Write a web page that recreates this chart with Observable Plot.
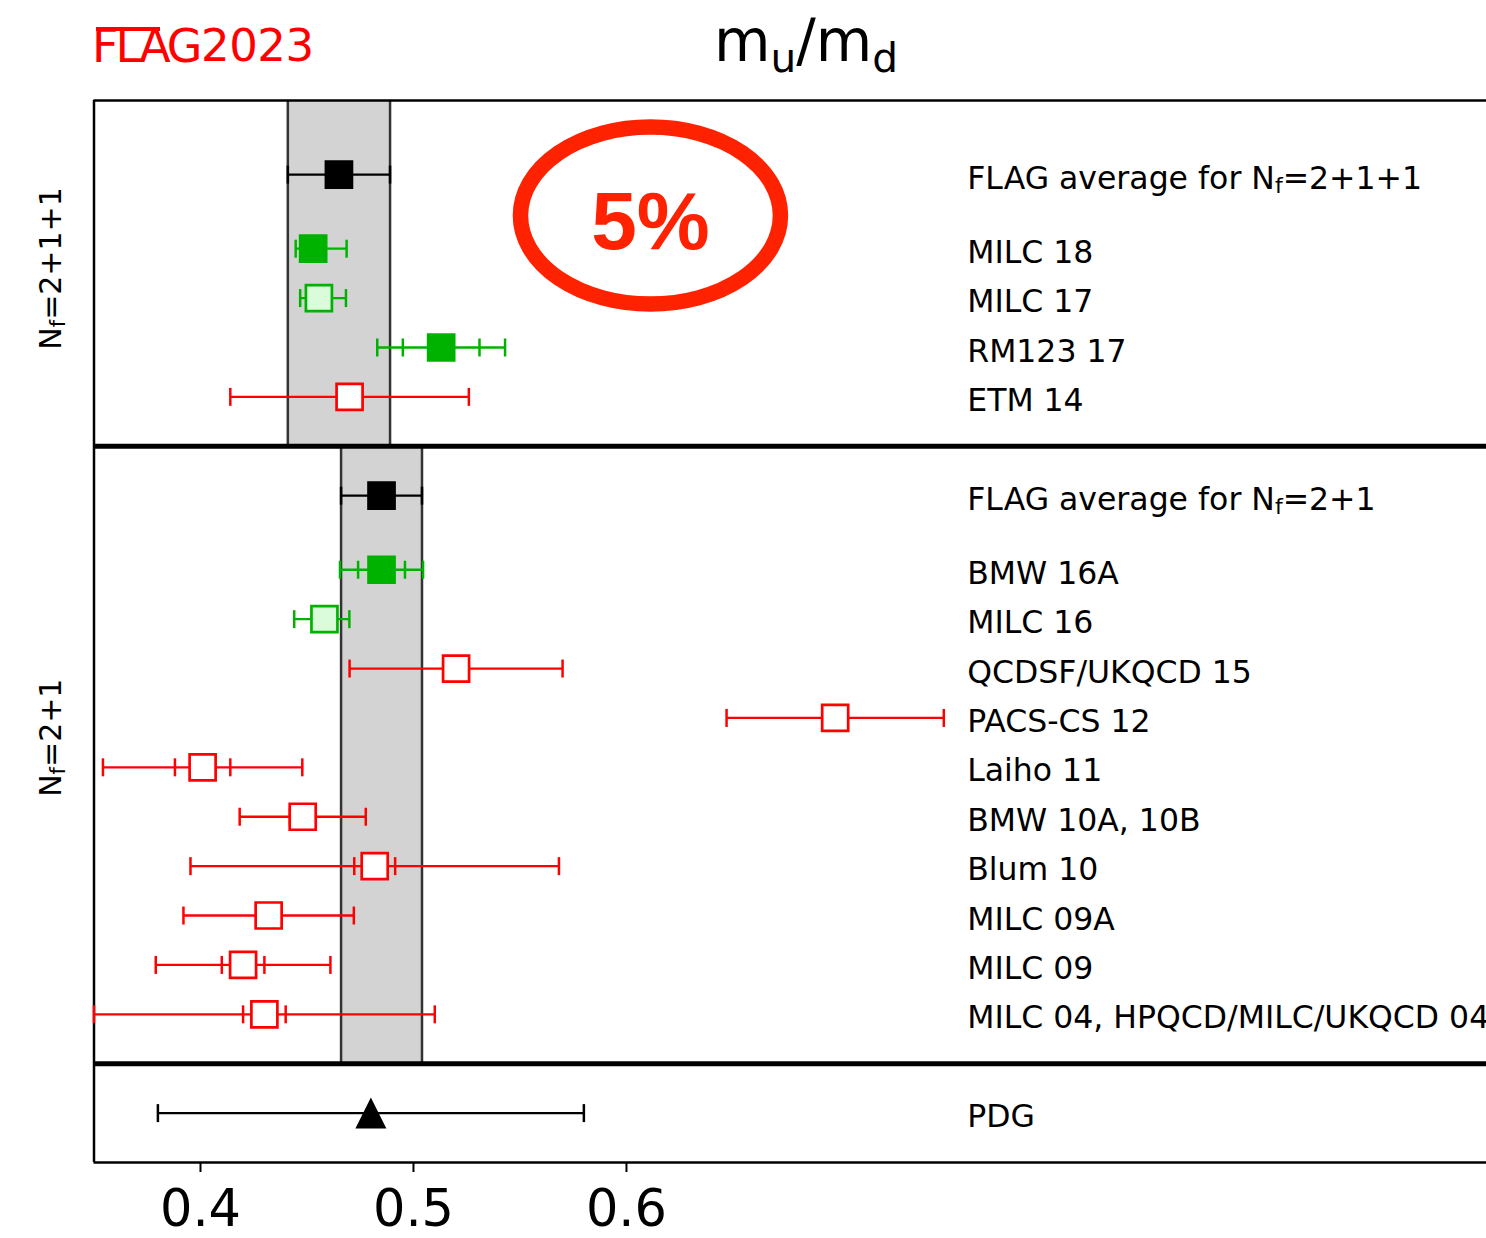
<!DOCTYPE html>
<html>
<head>
<meta charset="utf-8">
<script src="https://cdn.jsdelivr.net/npm/d3@7"></script>
<script src="https://cdn.jsdelivr.net/npm/@observablehq/plot@0.6"></script>
<style>
  html, body { margin: 0; padding: 0; background: #fff; overflow: hidden; }
  #head { position: relative; height: 90px; font-family: "DejaVu Sans", sans-serif; }
  .logo { position: absolute; top: 23px; font-size: 46px; line-height: 46px; color: #ff0000; white-space: nowrap; }
  #logo-bar { position: absolute; left: 96px; top: 27px; width: 64px; height: 4px; background: #ff0000; }
  #title { position: absolute; left: 806px; top: 12px; transform: translateX(-50%); font-size: 58px; line-height: 58px; white-space: nowrap; color: #000; }
  #title .sub { font-size: 0.7em; position: relative; top: 11px; }
</style>
</head>
<body>
<div id="head">
  <span class="logo" style="left:92px; letter-spacing:-3px">FLAG</span>
  <div id="logo-bar"></div>
  <span class="logo" style="left:201px; font-size:45px; letter-spacing:-0.5px">2023</span>
  <div id="title">m<span class="sub">u</span>/m<span class="sub">d</span></div>
</div>
<div id="chart"></div>
<script>
// m_u/m_d results, grouped by number of sea flavours
const labels = [
  "FLAG average for N_f=2+1+1",
  "MILC 18", "MILC 17", "RM123 17", "ETM 14",
  "FLAG average for N_f=2+1",
  "BMW 16A", "MILC 16", "QCDSF/UKQCD 15", "PACS-CS 12", "Laiho 11",
  "BMW 10A, 10B", "Blum 10", "MILC 09A", "MILC 09",
  "MILC 04, HPQCD/MILC/UKQCD 04",
  "PDG"
];
const panelOf = ["2+1+1","2+1+1","2+1+1","2+1+1","2+1+1",
  "2+1","2+1","2+1","2+1","2+1","2+1","2+1","2+1","2+1","2+1","2+1",
  "PDG"];
const kindOf = ["avg","filled","light","filled","open",
  "avg","filled","light","open","open","open","open","open","open","open","open",
  "pdg"];
const central = [0.465, 0.4529, 0.4556, 0.513, 0.470,
  0.485, 0.485, 0.4582, 0.52, 0.698, 0.401, 0.448, 0.4818, 0.432, 0.42, 0.43,
  0.48];
// total error range
const totalLo = [0.441, 0.4447, 0.4468, 0.483, 0.414,
  0.466, 0.4655, 0.444, 0.47, 0.647, 0.3542, 0.4184, 0.3953, 0.392, 0.379, 0.35,
  0.38];
const totalHi = [0.489, 0.4686, 0.4683, 0.543, 0.526,
  0.504, 0.5045, 0.4699, 0.57, 0.749, 0.4478, 0.4776, 0.5683, 0.472, 0.461, 0.51,
  0.58];
// statistical error range (inner caps), null where not quoted separately
const statLo = [null, 0.4481, 0.4501, 0.495, null,
  null, 0.474, 0.4544, null, null, 0.388, 0.442, 0.4722, null, 0.41, 0.42,
  null];
const statHi = [null, 0.4577, 0.4611, 0.531, null,
  null, 0.496, 0.462, null, null, 0.414, 0.454, 0.4914, null, 0.43, 0.44,
  null];
const panels = ["2+1+1", "2+1", "PDG"];
const panelTitles = ["N_f=2+1+1", "N_f=2+1"];
const xTicks = [0.4, 0.5, 0.6];

const GREEN = "#00b200", LIGHT = "#dafcda", RED = "#ff0000";
const strokeOf = {avg: "black", filled: GREEN, light: GREEN, open: RED, pdg: "black"};
const fillOf = {avg: "black", filled: GREEN, light: LIGHT, open: "white", pdg: "black"};

const rows = labels.map((label, i) => ({
  label, panel: panelOf[i], kind: kindOf[i], value: central[i],
  lo: totalLo[i], hi: totalHi[i], slo: statLo[i], shi: statHi[i]
}));

// vertical layout in row units: average first, a wider gap, then one row per result
const avgOffset = {"2+1+1": 1.5, "2+1": 1, "PDG": 1};
const frames = [];
let cursor = 0;
for (const p of panels) {
  const top = cursor;
  const items = rows.filter(r => r.panel === p);
  let y = top + avgOffset[p];
  items.forEach((r, j) => {
    if (j > 0) y += (j === 1 && items[0].kind === "avg") ? 1.5 : 1;
    r.y = y;
  });
  const bottom = y + 1;
  frames.push({panel: p, top, bottom});
  cursor = bottom;
}
const yMax = cursor;

// FLAG average bands spanning their panel
const bands = frames.filter(f => f.panel !== "PDG").map(f => {
  const avg = rows.find(r => r.panel === f.panel && r.kind === "avg");
  return {lo: avg.lo, hi: avg.hi, top: f.top, bottom: f.bottom};
});
const bandEdges = bands.flatMap(b => [{x: b.lo, top: b.top, bottom: b.bottom}, {x: b.hi, top: b.top, bottom: b.bottom}]);

const caps = rows.flatMap(r => [r.lo, r.hi, r.slo, r.shi]
  .filter(v => v != null).map(x => ({x, y: r.y, kind: r.kind})));

const outerLines = [0, yMax];
const innerLines = frames.slice(0, -1).map(f => f.bottom);
const panelLabelY = [3.4, 12.9];
const panelLabels = panelTitles.map((t, i) => ({text: t, y: panelLabelY[i]}));

const X_MIN = 0.35, X_MAX = 1.0038, LABEL_X = 0.76;

const capSymbol = {draw(ctx, size) { const r = Math.sqrt(size / Math.PI); ctx.moveTo(0, -r); ctx.lineTo(0, r); }};
const triSymbol = {draw(ctx, size) { const r = Math.sqrt(size / Math.PI); ctx.moveTo(0, -r); ctx.lineTo(r, r); ctx.lineTo(-r, r); ctx.closePath(); }};

const chart = Plot.plot({
  width: 1486,
  height: 1148,
  marginTop: 10,
  marginBottom: 76,
  marginLeft: 93.5,
  marginRight: 0,
  style: {fontFamily: "DejaVu Sans", background: "white", color: "black"},
  color: {type: "identity"},
  x: {domain: [X_MIN, X_MAX], label: null},
  y: {domain: [0, yMax], reverse: true, axis: null},
  marks: [
    Plot.rect(bands, {x1: "lo", x2: "hi", y1: "top", y2: "bottom", fill: "#d3d3d3"}),
    Plot.ruleX(bandEdges, {x: "x", y1: "top", y2: "bottom", stroke: "#333333", strokeWidth: 2.5}),
    Plot.ruleY(innerLines, {stroke: "black", strokeWidth: 5}),
    Plot.ruleY(outerLines, {stroke: "black", strokeWidth: 2.5}),
    Plot.ruleX([X_MIN], {y1: 0, y2: yMax, stroke: "black", strokeWidth: 2.5}),
    Plot.ruleY(rows, {y: "y", x1: "lo", x2: "hi", stroke: d => strokeOf[d.kind], strokeWidth: 2.3}),
    Plot.dot(caps, {x: "x", y: "y", symbol: capSymbol, r: 9, fill: "none", stroke: d => strokeOf[d.kind], strokeWidth: 2.5}),
    Plot.dot(rows.filter(r => r.kind !== "pdg"), {x: "value", y: "y", symbol: "square", r: 14.67,
      fill: d => fillOf[d.kind], stroke: d => strokeOf[d.kind], strokeWidth: 2.7}),
    Plot.dot(rows.filter(r => r.kind === "pdg"), {x: "value", y: "y", symbol: triSymbol, r: 15.5, fill: "black", stroke: "none"}),
    Plot.text(rows, {x: LABEL_X, y: "y", text: "label", textAnchor: "start", fontSize: 31.5, dy: 4, fill: "black"}),
    Plot.text(panelLabels, {x: X_MIN, y: "y", text: "text", rotate: -90, dx: -43, fontSize: 30, fill: "black"}),
    Plot.axisX({ticks: xTicks, tickFormat: d3.format(".1f"), tickSize: 10, tickPadding: 17, fontSize: 51, strokeWidth: 2, label: null})
  ]
});

// "N_f" -> N with a lowered, smaller f
d3.select(chart).selectAll("text").each(function () {
  const s = this.textContent;
  const i = s.indexOf("N_f");
  if (i < 0) return;
  const el = d3.select(this);
  el.text(null);
  el.append("tspan").text(s.slice(0, i + 1));
  el.append("tspan").attr("font-size", "70%").attr("dy", "0.2em").text("f");
  el.append("tspan").attr("dy", "-0.14em").text(s.slice(i + 3));
});

// highlighted precision note
const sx = chart.scale("x"), sy = chart.scale("y");
const cx = sx.apply(0.6115), cy = sy.apply(2.34);
const note = d3.select(chart).append("g");
note.append("ellipse").attr("cx", cx).attr("cy", cy).attr("rx", 130).attr("ry", 88.5)
  .attr("fill", "none").attr("stroke", "#ff2200").attr("stroke-width", 15.5);
note.append("text").attr("x", cx).attr("y", cy + 33).attr("text-anchor", "middle")
  .attr("font-family", "Liberation Sans, Arial, sans-serif").attr("font-weight", "bold")
  .attr("font-size", 82).attr("fill", "#ff2200").text("5%");

document.getElementById("chart").appendChild(chart);
</script>
</body>
</html>
